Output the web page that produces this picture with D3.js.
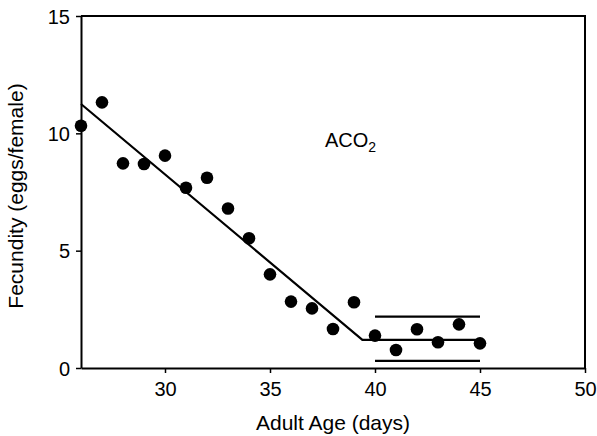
<!DOCTYPE html>
<html><head><meta charset="utf-8">
<script src="https://cdn.jsdelivr.net/npm/d3@7"></script>
<style>
html,body{margin:0;padding:0;background:#fff;}
text{font-family:"Liberation Sans",Arial,Helvetica,sans-serif;fill:#000;}
</style></head>
<body>
<svg id="c" width="597" height="436"></svg>
<script>
const ages = [26,27,28,29,30,31,32,33,34,35,36,37,38,39,40,41,42,43,44,45];
const fecundity = [10.32,11.32,8.72,8.69,9.05,7.68,8.11,6.80,5.53,3.99,2.83,2.54,1.66,2.80,1.38,0.77,1.65,1.10,1.86,1.05];
const fitLine = [[26,11.25],[39.4,1.2],[45,1.2]];
const upperBand = [[40,2.19],[45,2.19]];
const lowerBand = [[40,0.30],[45,0.30]];
const xTicks = [30,35,40,45,50];
const yTicks = [0,5,10,15];

const svg = d3.select("#c");
const L=81,R=585,T=16,B=368;
const x = d3.scaleLinear().domain([26,50]).range([L,R]);
const y = d3.scaleLinear().domain([0,15]).range([B,T]);

// frame top & right
svg.append("path").attr("d",`M${L},${T}H${R}V${B}`).attr("fill","none").attr("stroke","#000").attr("stroke-width",2);

const xa = svg.append("g").attr("transform",`translate(0,${B})`)
  .call(d3.axisBottom(x).tickValues(xTicks).tickSize(5).tickPadding(9).tickSizeOuter(0));
const ya = svg.append("g").attr("transform",`translate(${L},0)`)
  .call(d3.axisLeft(y).tickValues(yTicks).tickSize(5).tickPadding(6).tickSizeOuter(0));
[xa,ya].forEach(a=>{
  a.select(".domain").attr("stroke-width",2);
  a.selectAll(".tick line").attr("stroke-width",1.5);
  a.selectAll(".tick text").style("font-size","20px").attr("fill","#000");
});
ya.selectAll(".tick text").attr("dy","0.36em");

const line = d3.line().x(d=>x(d[0])).y(d=>y(d[1]));
[fitLine,upperBand,lowerBand].forEach(d=>{
  svg.append("path").attr("d",line(d)).attr("fill","none").attr("stroke","#000").attr("stroke-width",2.2);
});

svg.append("g").selectAll("circle").data(ages).join("circle")
  .attr("cx",d=>x(d)).attr("cy",(d,i)=>y(fecundity[i])).attr("r",6.3).attr("fill","#000");

svg.append("text").attr("x",(L+R)/2).attr("y",430).attr("text-anchor","middle")
  .style("font-size","21px").text("Adult Age (days)");
svg.append("text").attr("transform",`translate(23,196) rotate(-90)`).attr("text-anchor","middle")
  .style("font-size","21px").text("Fecundity (eggs/female)");

const lab = svg.append("text").attr("x",325).attr("y",147).style("font-size","20px");
lab.append("tspan").text("ACO");
lab.append("tspan").attr("dy",5).style("font-size","14px").text("2");
</script>
</body></html>
